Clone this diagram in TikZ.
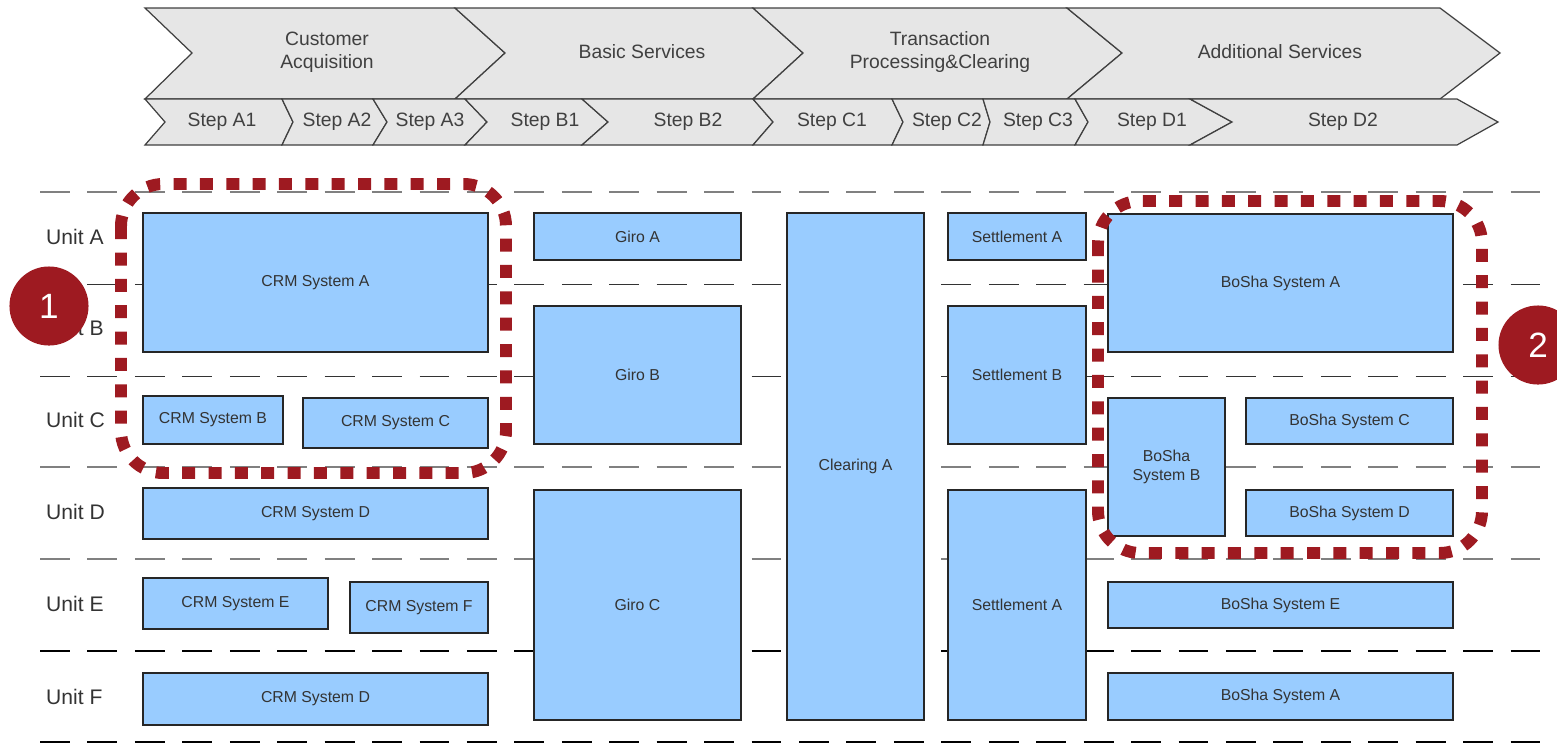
\documentclass[tikz,border=0pt]{standalone}
\usepackage{fontspec}
\setmainfont{Liberation Sans}
\usetikzlibrary{fit,positioning}
\definecolor{boxblue}{RGB}{153,204,255}
\definecolor{phasegray}{RGB}{230,230,230}
\definecolor{markred}{RGB}{158,26,33}

\begin{document}
\begin{tikzpicture}[x=0.02cm,y=-0.02cm,
  phase/.style={draw=black!75,fill=phasegray,line width=0.7pt},
  phasetxt/.style={font=\fontsize{11}{13}\selectfont,text=black!75,align=center},
  sys/.style={draw=black!85,fill=boxblue,line width=0.9pt,inner sep=0pt},
  systxt/.style={font=\fontsize{9}{11}\selectfont,text=black!80,align=center},
  unit/.style={anchor=west,font=\fontsize{12}{14}\selectfont,text=black!80},
  lanesoft/.style={draw=black!50,line width=0.9pt,dash pattern=on 17pt off 10pt},
  lanedot/.style={draw=black!80,line width=0.5pt,dash pattern=on 17pt off 10pt},
  lanehard/.style={draw=black,line width=1.6pt,dash pattern=on 17pt off 10pt},
  group/.style={draw=markred,line width=6.8pt,dash pattern=on 7.4pt off 7.6pt,rounded corners=24pt},
  badge/.style={circle,fill=markred,minimum size=45pt,inner sep=0pt,text=white,
    font=\fontsize{20}{20}\selectfont}]
  \useasboundingbox (0,0) rectangle (1557,744);
  \clip (0,0) rectangle (1557,744);

  % value chain
  \foreach \xa/\da/\xb/\db in {145/47/455/50, 455/50/753/50, 753/50/1067/55, 1067/55/1440/60}
    \draw[phase] (\xa,8) -- (\xb,8) -- (\xb+\db,53) -- (\xb,99) -- (\xa,99) -- (\xa+\da,53) -- cycle;
  \foreach \xa/\da/\xb/\db in {145/20/282/11, 282/11/373/14, 373/14/465/22, 465/22/582/26,
      582/26/753/20, 753/20/892/11, 892/11/983/7, 983/7/1075/13, 1075/13/1190/42, 1190/42/1457/41}
    \draw[phase] (\xa,99) -- (\xb,99) -- (\xb+\db,122) -- (\xb,145) -- (\xa,145) -- (\xa+\da,122) -- cycle;

  \node[phasetxt] (acq) at (327,52) {Customer\\Acquisition};
  \node[phasetxt] (basic) at (642,52) {Basic Services};
  \node[phasetxt] (trans) at (940,52) {Transaction\\Processing\&Clearing};
  \node[phasetxt] (addl) at (1280,52) {Additional Services};

  \node[phasetxt] (sA1) at (222,122) {Step A1};
  \node[phasetxt] (sA2) at (337,122) {Step A2};
  \node[phasetxt] (sA3) at (430,122) {Step A3};
  \node[phasetxt] (sB1) at (545,122) {Step B1};
  \node[phasetxt] (sB2) at (688,122) {Step B2};
  \node[phasetxt] (sC1) at (832,122) {Step C1};
  \node[phasetxt] (sC2) at (947,122) {Step C2};
  \node[phasetxt] (sC3) at (1038,122) {Step C3};
  \node[phasetxt] (sD1) at (1152,122) {Step D1};
  \node[phasetxt] (sD2) at (1343,122) {Step D2};

  % lanes
  \draw[lanesoft] (40,192) -- (1545,192);
  \draw[lanedot] (40,284) -- (1545,284);
  \draw[lanedot] (40,376) -- (1545,376);
  \draw[lanesoft] (40,467) -- (1545,467);
  \draw[lanesoft] (40,559) -- (1545,559);
  \draw[lanehard] (40,651) -- (1545,651);
  \draw[lanehard] (40,742) -- (1545,742);

  \node[unit] (uA) at (40,237) {Unit A};
  \node[unit] (uB) at (40,328) {Unit B};
  \node[unit] (uC) at (40,420) {Unit C};
  \node[unit] (uD) at (40,512) {Unit D};
  \node[unit] (uE) at (40,604) {Unit E};
  \node[unit] (uF) at (40,697) {Unit F};

  % systems
  \node[sys, fit={(143,213) (488,352)}, label={[systxt]center:CRM System A}] (crmA) {};
  \node[sys, fit={(143,396) (283,444)}, label={[systxt]center:CRM System B}] (crmB) {};
  \node[sys, fit={(303,398) (488,448)}, label={[systxt]center:CRM System C}] (crmC) {};
  \node[sys, fit={(143,488) (488,539)}, label={[systxt]center:CRM System D}] (crmD) {};
  \node[sys, fit={(143,578) (328,629)}, label={[systxt]center:CRM System E}] (crmE) {};
  \node[sys, fit={(350,582) (488,633)}, label={[systxt]center:CRM System F}] (crmF) {};
  \node[sys, fit={(143,673) (488,725)}, label={[systxt]center:CRM System D}] (crmD2) {};

  \node[sys, fit={(534,213) (741,260)}, label={[systxt]center:Giro A}] (giroA) {};
  \node[sys, fit={(534,306) (741,444)}, label={[systxt]center:Giro B}] (giroB) {};
  \node[sys, fit={(534,490) (741,720)}, label={[systxt]center:Giro C}] (giroC) {};
  \node[sys, fit={(787,213) (924,720)}, label={[systxt]center:Clearing A}] (clearA) {};
  \node[sys, fit={(948,213) (1086,260)}, label={[systxt]center:Settlement A}] (settA) {};
  \node[sys, fit={(948,306) (1086,444)}, label={[systxt]center:Settlement B}] (settB) {};
  \node[sys, fit={(948,490) (1086,720)}, label={[systxt]center:Settlement A}] (settA2) {};

  \node[sys, fit={(1108,214) (1453,352)}, label={[systxt]center:BoSha System A}] (boshaA) {};
  \node[sys, fit={(1108,398) (1225,536)}, label={[systxt]center:{BoSha\\System B}}] (boshaB) {};
  \node[sys, fit={(1246,398) (1453,444)}, label={[systxt]center:BoSha System C}] (boshaC) {};
  \node[sys, fit={(1246,490) (1453,536)}, label={[systxt]center:BoSha System D}] (boshaD) {};
  \node[sys, fit={(1108,582) (1453,628)}, label={[systxt]center:BoSha System E}] (boshaE) {};
  \node[sys, fit={(1108,673) (1453,720)}, label={[systxt]center:BoSha System A}] (boshaA2) {};

  % highlights
  \draw[group] (121,184) rectangle (506,473);
  \draw[group] (1098,201) rectangle (1482,553);
  \node[badge] (one) at (49,306) {1};
  \node[badge] (two) at (1538,345) {2};
\end{tikzpicture}
\end{document}
